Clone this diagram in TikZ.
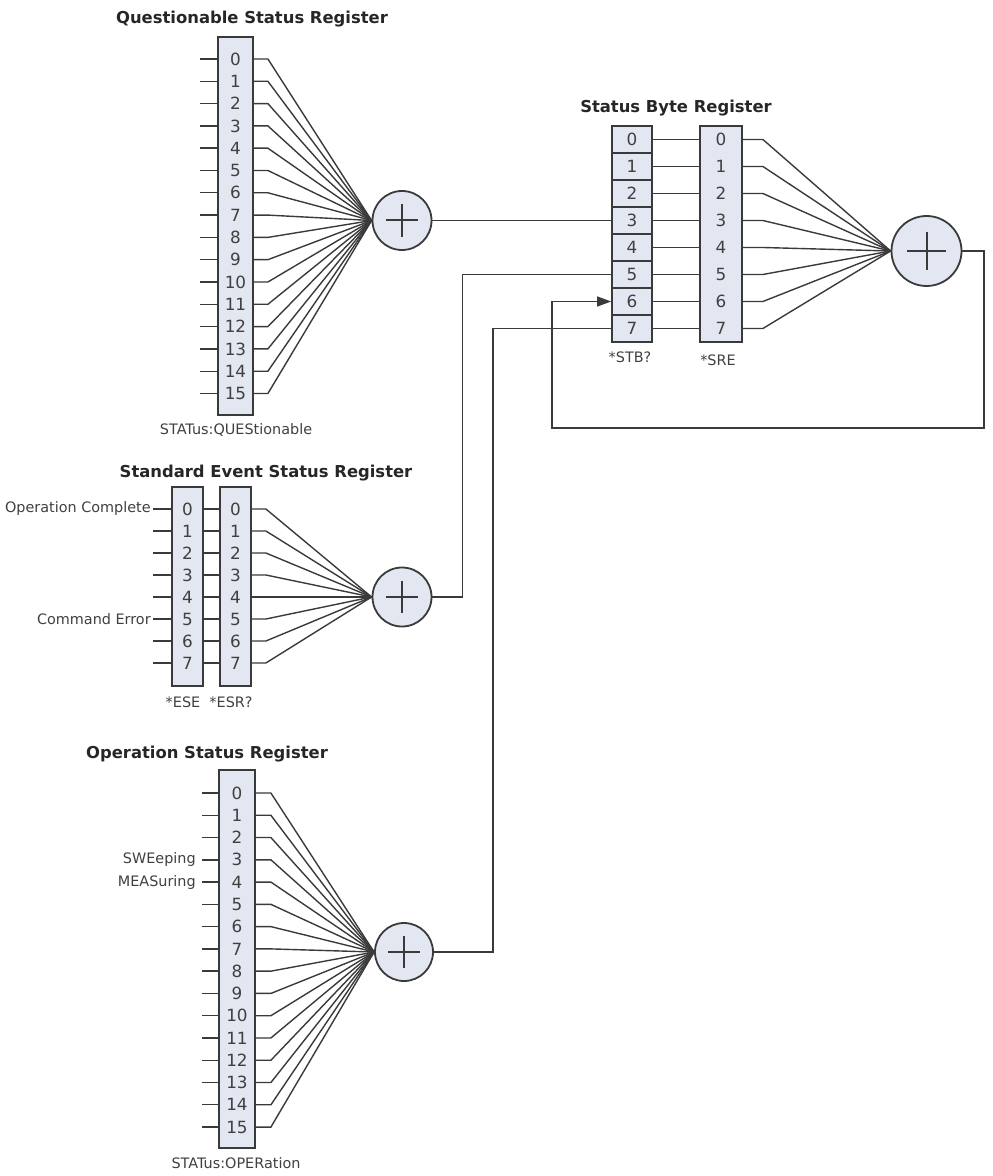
\documentclass[tikz,border=0pt]{standalone}
\usepackage{fontspec}
\setmainfont{DejaVu Sans}
\usetikzlibrary{calc,arrows.meta}
\definecolor{regfill}{HTML}{E3E7F1}
\definecolor{wire}{HTML}{3A3A3A}
\definecolor{ink}{HTML}{404040}
\tikzset{
  regbox/.style={draw=wire, fill=regfill, line width=0.9pt, inner sep=0pt},
  bitnum/.style={font=\fontsize{8.4}{9}\selectfont, text=ink, inner sep=0pt},
  bitcell/.style={regbox, bitnum, minimum width=20pt, minimum height=13.5pt},
  regtitle/.style={font=\fontsize{8.2}{10}\selectfont\bfseries, text=black!85},
  lbl/.style={font=\fontsize{7.2}{9}\selectfont, text=ink, inner sep=1pt},
  wireline/.style={draw=wire, line width=0.7pt},
  sumnode/.style={circle, draw=wire, fill=regfill, line width=0.9pt, minimum size=#1, inner sep=0pt,
    path picture={\draw[wire, line width=1pt]
      ($(path picture bounding box.center)!0.55!(path picture bounding box.west)$) -- ($(path picture bounding box.center)!0.55!(path picture bounding box.east)$)
      ($(path picture bounding box.center)!0.55!(path picture bounding box.north)$) -- ($(path picture bounding box.center)!0.55!(path picture bounding box.south)$);}},
}
\begin{document}
\begin{tikzpicture}[x=0.5pt, y=-0.5pt]
\useasboundingbox (0,0) rectangle (992,1176);

% Questionable Status Register
\node[regtitle] (qtitle) at (252,19) {Questionable Status Register};
\node[regbox, minimum width=17.5pt, minimum height=189pt] (qreg) at (235.5,226) {};
\node[sumnode=29.5pt] (qsum) at (402,220.5) {};
\foreach \i in {0,...,15}{
  \node[bitnum] (q\i) at (235.5,59+22.3*\i) {\i};
  \draw[wireline] (qreg.west |- q\i) -- ++(-17,0);
  \draw[wireline] (qreg.east |- q\i) -- ++(14,0) -- (qsum.west);
}
\node[lbl] (qlbl) at (236,430) {STATus:QUEStionable};

% Status Byte Register
\node[regtitle] (sbtitle) at (676,108) {Status Byte Register};
\node[regbox, minimum width=21pt, minimum height=108pt] (sre) at (721,234) {};
\node[sumnode=35pt] (sbsum) at (926.5,251) {};
\foreach \i in {0,...,7}{
  \node[bitcell] (stb\i) at (632,139.5+27*\i) {\i};
  \node[bitnum] (sre\i) at (721,139.5+27*\i) {\i};
  \draw[wireline] (stb\i) -- (sre.west |- sre\i);
  \draw[wireline] (sre.east |- sre\i) -- ++(20,0) -- (sbsum.west);
}
\node[lbl] (stblbl) at (630,357) {*STB?};
\node[lbl] (srelbl) at (718,360) {*SRE};

% feedback of the summary bit
\coordinate (loopr) at (984,428);
\coordinate (loopl) at (552,428);
\draw[wireline, -{Triangle[length=7pt,width=5pt]}] (sbsum.east) -| (loopr) -- (loopl) |- (stb6.west);
\draw[wireline] (qsum) -- (stb3);

% Standard Event Status Register
\node[regtitle] (etitle) at (266,473) {Standard Event Status Register};
\node[regbox, minimum width=15.5pt, minimum height=99.5pt] (ese) at (187.5,586.5) {};
\node[regbox, minimum width=15.5pt, minimum height=99.5pt] (esr) at (235.5,586.5) {};
\node[sumnode=29.5pt] (esrsum) at (402,597) {};
\foreach \i in {0,...,7}{
  \node[bitnum] (ese\i) at (187.5,509+22*\i) {\i};
  \node[bitnum] (esr\i) at (235.5,509+22*\i) {\i};
  \draw[wireline] (ese.west |- ese\i) -- ++(-18,0);
  \draw[wireline] (ese.east |- ese\i) -- (esr.west |- esr\i);
  \draw[wireline] (esr.east |- esr\i) -- ++(14,0) -- (esrsum.west);
}
\node[lbl, anchor=east] (opc) at ([xshift=-9pt]ese.west |- ese0) {Operation Complete};
\node[lbl, anchor=east] (cme) at ([xshift=-9pt]ese.west |- ese5) {Command Error};
\node[lbl] (eselbl) at (183,702) {*ESE};
\node[lbl] (esrlbl) at (231,702) {*ESR?};
\draw[wireline] (esrsum.east) -- ++(30,0) |- (stb5.west);

% Operation Status Register
\node[regtitle] (otitle) at (207,754) {Operation Status Register};
\node[regbox, minimum width=18pt, minimum height=189pt] (oreg) at (237,959) {};
\node[sumnode=29pt] (osum) at (404,952) {};
\foreach \i in {0,...,15}{
  \node[bitnum] (o\i) at (237,793+22.27*\i) {\i};
  \draw[wireline] (oreg.west |- o\i) -- ++(-16,0);
  \draw[wireline] (oreg.east |- o\i) -- ++(15,0) -- (osum.west);
}
\node[lbl, anchor=east] (swe) at ([xshift=-10pt]oreg.west |- o3) {SWEeping};
\node[lbl, anchor=east] (meas) at ([xshift=-10pt]oreg.west |- o4) {MEASuring};
\node[lbl] (olbl) at (236,1163) {STATus:OPERation};
\draw[wireline] (osum.east) -- ++(59,0) |- (stb7.west);
\end{tikzpicture}
\end{document}
